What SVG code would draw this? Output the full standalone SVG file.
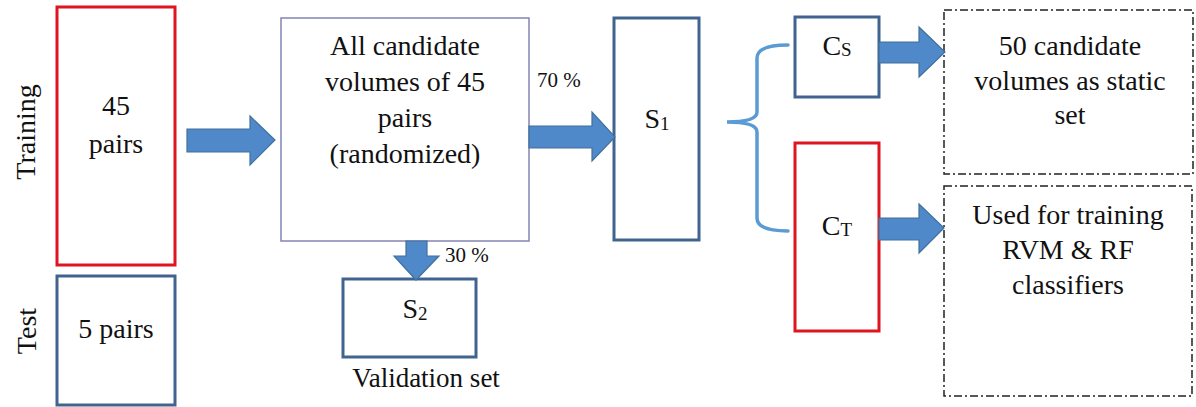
<svg xmlns="http://www.w3.org/2000/svg" width="1196" height="407" viewBox="0 0 1196 407">
<style>
text{font-family:"Liberation Serif","Times New Roman",serif;fill:#111;}
.t28{font-size:28px;text-anchor:middle;}
.t27{font-size:27px;text-anchor:middle;}
.t21{font-size:21px;}
.red{fill:#fff;stroke:#E0141E;stroke-width:3;}
.blue{fill:#fff;stroke:#41648F;stroke-width:3;}
.purple{fill:#fff;stroke:#8484B4;stroke-width:1.5;}
.dash{fill:#fff;stroke:#222;stroke-width:1.5;stroke-dasharray:8 3 2 3;}
.arrow{fill:#4F89C9;stroke:#41719C;stroke-width:1.2;}
.brace{fill:none;stroke:#5B9BD5;stroke-width:3.5;stroke-linecap:round;}
</style>
<rect width="1196" height="407" fill="#fff"/>
<g id="label-training"><text class="t28" transform="translate(35,132) rotate(-90)">Training</text></g>
<g id="label-test"><text class="t28" transform="translate(36,331) rotate(-90)">Test</text></g>
<g id="train-box"><rect class="red" x="57" y="7" width="118" height="258"/>
<text class="t28" transform="translate(116,115)">45</text><text class="t28" transform="translate(116,153)">pairs</text></g>
<g id="test-box"><rect class="blue" x="57" y="276" width="118" height="129"/>
<text class="t28" transform="translate(116,338)">5 pairs</text></g>
<g id="all-box"><rect class="purple" x="281" y="18" width="248" height="223"/>
<text class="t28" transform="translate(405,55)">All candidate</text>
<text class="t28" transform="translate(405,91)">volumes of 45</text>
<text class="t28" transform="translate(405,127)">pairs</text>
<text class="t28" transform="translate(405,163)">(randomized)</text></g>
<g id="s1-box"><rect class="blue" x="614" y="18" width="85" height="222"/>
<text class="t28" transform="translate(657,128)">S<tspan font-size="19" dy="2">1</tspan></text></g>
<g id="s2-box"><rect class="blue" x="343" y="279" width="133" height="78"/>
<text class="t28" transform="translate(415,318)">S<tspan font-size="19" dy="2">2</tspan></text>
<text class="t27" transform="translate(426,387)">Validation set</text></g>
<g id="cs-box"><rect class="blue" x="795" y="17" width="84" height="80"/>
<text class="t28" transform="translate(837,55)">C<tspan font-size="19" dy="1">S</tspan></text></g>
<g id="ct-box"><rect class="red" x="795" y="143" width="84" height="188"/>
<text class="t28" transform="translate(837,235)">C<tspan font-size="19" dy="1">T</tspan></text></g>
<g id="static-box"><rect class="dash" x="944" y="10" width="249" height="164"/>
<text class="t28" transform="translate(1070,55)">50 candidate</text>
<text class="t28" transform="translate(1070,90)">volumes as static</text>
<text class="t28" transform="translate(1070,124)">set</text></g>
<g id="train-use-box"><rect class="dash" x="944" y="186" width="248" height="210"/>
<text class="t28" transform="translate(1068,224)">Used for training</text>
<text class="t28" transform="translate(1068,259)">RVM &amp; RF</text>
<text class="t28" transform="translate(1068,294)">classifiers</text></g>
<g id="connectors">
<polygon class="arrow" points="187,129 250,129 250,116 275,140 250,165 250,152 187,152"/>
<polygon class="arrow" points="529,126 592,126 592,112 615,137 592,161 592,148 529,148"/>
<polygon class="arrow" points="406,241 427,241 427,256 439,256 416,280 394,256 406,256"/>
<polygon class="arrow" points="879,42 919,42 919,27 945,52 919,77 919,63 879,63"/>
<polygon class="arrow" points="879,218 919,218 919,204 944,228 919,253 919,240 879,240"/>
<path class="brace" d="M788,45 Q757,45 757,58 L757,112 Q757,122 727,122 Q757,122 757,132 L757,218 Q757,231 788,231"/>
<text class="t21" x="537" y="87">70 %</text>
<text class="t21" x="445" y="262">30 %</text>
</g>
</svg>
